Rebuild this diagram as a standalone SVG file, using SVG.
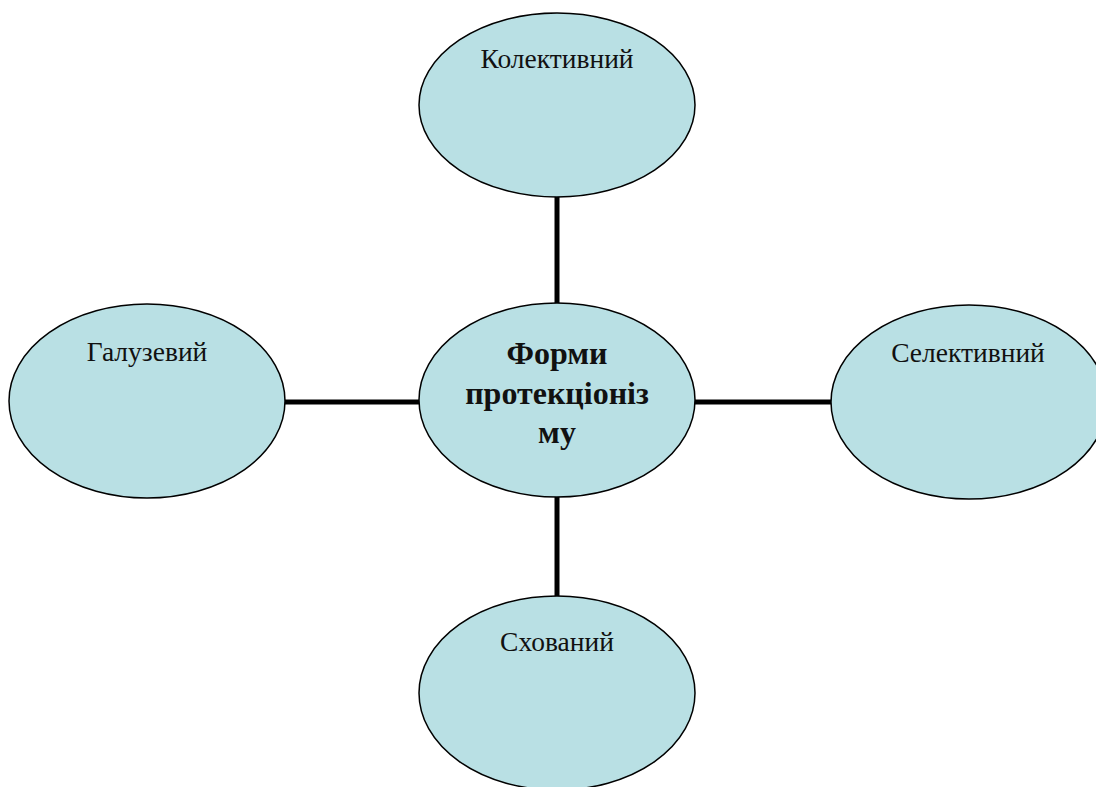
<svg xmlns="http://www.w3.org/2000/svg" width="1096" height="787" viewBox="0 0 1096 787">
<style>
.node ellipse{fill:#b9e0e4;stroke:#000;stroke-width:1.5}
.lbl{font-family:"Liberation Serif","Times New Roman",serif;font-size:27.5px;fill:#111;text-anchor:middle}
.main{font-family:"Liberation Serif","Times New Roman",serif;font-size:32px;font-weight:bold;fill:#111;text-anchor:middle}
.conn line{stroke:#000;stroke-width:5}
</style>
<rect width="1096" height="787" fill="#fff"/>
<g id="connectors" class="conn">
<line x1="557" y1="196" x2="557" y2="305"/>
<line x1="557" y1="495" x2="557" y2="598"/>
<line x1="283" y1="402" x2="422" y2="402"/>
<line x1="693" y1="402" x2="833" y2="402"/>
</g>
<g id="top" class="node">
<ellipse cx="557" cy="105" rx="138" ry="92"/>
<text class="lbl" x="557" y="68">Колективний</text>
</g>
<g id="left" class="node">
<ellipse cx="147" cy="401" rx="138" ry="97"/>
<text class="lbl" x="147" y="361">Галузевий</text>
</g>
<g id="center" class="node">
<ellipse cx="557" cy="400" rx="138" ry="97"/>
<text class="main" x="557" y="364">Форми</text>
<text class="main" x="557" y="404">протекціоніз</text>
<text class="main" x="557" y="443">му</text>
</g>
<g id="right" class="node">
<ellipse cx="969" cy="402" rx="138" ry="97"/>
<text class="lbl" x="968" y="362">Селективний</text>
</g>
<g id="bottom" class="node">
<ellipse cx="557" cy="693" rx="138" ry="97"/>
<text class="lbl" x="557" y="651">Схований</text>
</g>
</svg>
